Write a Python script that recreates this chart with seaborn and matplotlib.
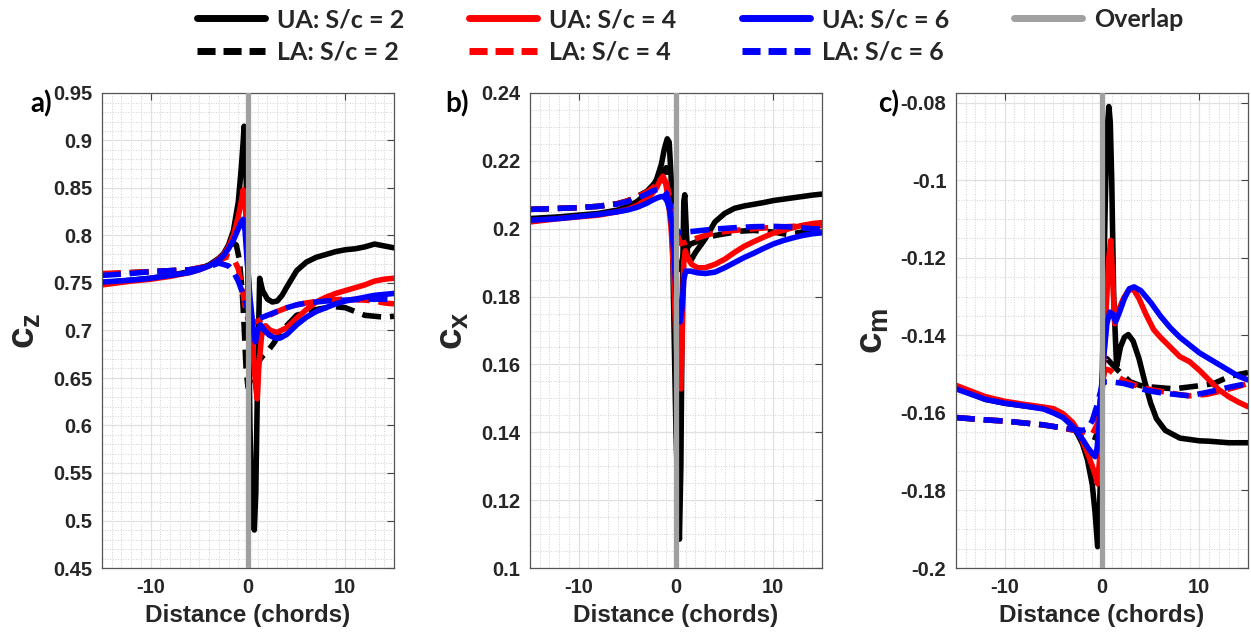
import numpy as np
import pandas as pd
import matplotlib
matplotlib.use("Agg")
import matplotlib.pyplot as plt
from matplotlib.ticker import MultipleLocator, FormatStrFormatter
import seaborn as sns

# ---- data (x in chords) ----
# panel a: c_z
a_ua2_x = [-15, -12, -10, -8, -6, -5, -4, -3, -2.5, -2, -1.5, -1, -0.7, -0.5, -0.4, -0.3, -0.1, 0.1, 0.2, 0.35,
           0.5, 0.65, 0.8, 1.0, 1.2, 1.5, 2.0, 2.5, 3.0, 3.5, 4, 5, 6, 7, 8, 9, 10, 11, 12, 13, 14, 15]
a_ua2_y = [0.750, 0.753, 0.755, 0.758, 0.762, 0.765, 0.769, 0.776, 0.781, 0.790, 0.805, 0.835, 0.870, 0.898, 0.915, 0.905,
           0.82, 0.68, 0.60, 0.53, 0.495, 0.49, 0.53, 0.66, 0.755, 0.742, 0.733, 0.730, 0.731, 0.737, 0.746, 0.763, 0.772,
           0.777, 0.780, 0.783, 0.785, 0.786, 0.788, 0.791, 0.789, 0.787]
a_ua4_x = [-15, -12, -10, -8, -6, -5, -4, -3, -2.5, -2, -1.5, -1, -0.7, -0.5, -0.3, -0.1, 0.2, 0.5, 0.8, 0.95, 1.1, 1.4,
           1.8, 2.3, 3, 4, 5, 6, 7, 8, 9, 10, 11, 12, 13, 14, 15]
a_ua4_y = [0.748, 0.752, 0.754, 0.757, 0.761, 0.764, 0.768, 0.775, 0.780, 0.788, 0.800, 0.820, 0.835, 0.848, 0.840, 0.790,
           0.720, 0.680, 0.640, 0.628, 0.660, 0.695, 0.705, 0.700, 0.698, 0.703, 0.713, 0.722, 0.730, 0.735, 0.739, 0.742,
           0.745, 0.748, 0.752, 0.754, 0.755]
a_ua6_x = [-15, -12, -10, -8, -6, -5, -4, -3, -2.5, -2, -1.5, -1, -0.7, -0.5, -0.3, -0.1, 0.2, 0.5, 0.75, 1.0, 1.3, 1.7,
           2.2, 2.8, 3.3, 4, 5, 6, 7, 8, 9, 10, 11, 12, 13, 14, 15]
a_ua6_y = [0.751, 0.753, 0.755, 0.758, 0.761, 0.764, 0.768, 0.774, 0.779, 0.786, 0.795, 0.807, 0.814, 0.817, 0.805, 0.775,
           0.735, 0.705, 0.688, 0.700, 0.706, 0.700, 0.695, 0.692, 0.692, 0.696, 0.706, 0.714, 0.720, 0.724, 0.728, 0.731,
           0.733, 0.735, 0.737, 0.738, 0.739]
a_la2_x = [-15, -12, -10, -8, -6, -4, -3, -2.5, -2, -1.5, -1.2, -0.9, -0.6, -0.4, -0.2, 0.0, 0.4, 0.9, 1.5, 2.0, 2.6,
           3.5, 5, 6.5, 8, 9, 10, 11, 12, 13, 14, 15]
a_la2_y = [0.759, 0.761, 0.762, 0.763, 0.764, 0.768, 0.774, 0.779, 0.785, 0.792, 0.790, 0.775, 0.742, 0.705, 0.660, 0.640,
           0.652, 0.665, 0.673, 0.678, 0.686, 0.700, 0.716, 0.721, 0.724, 0.725, 0.724, 0.720, 0.716, 0.715, 0.714, 0.715]
a_la4_x = [-15, -12, -10, -8, -6, -4, -3, -2.5, -2, -1.5, -1, -0.6, -0.3, 0.0, 0.5, 1.0, 2.0, 3.0, 4, 5, 6, 8, 10, 12,
           13, 14, 15]
a_la4_y = [0.760, 0.761, 0.762, 0.763, 0.764, 0.768, 0.773, 0.776, 0.778, 0.776, 0.765, 0.745, 0.726, 0.712, 0.708, 0.710,
           0.715, 0.720, 0.724, 0.727, 0.729, 0.732, 0.733, 0.732, 0.731, 0.729, 0.728]
a_la6_x = [-15, -12, -10, -8, -6, -4, -3, -2, -1.5, -1, -0.5, -0.2, 0.0, 0.5, 1.0, 2.0, 3.0, 4, 5, 6, 8, 10, 12, 14, 15]
a_la6_y = [0.758, 0.760, 0.762, 0.763, 0.764, 0.767, 0.771, 0.768, 0.762, 0.752, 0.738, 0.728, 0.722, 0.712, 0.712, 0.716,
           0.720, 0.724, 0.727, 0.729, 0.731, 0.732, 0.733, 0.733, 0.732]

# panel b: c_x
b_ua2_x = [-15, -12, -10, -8, -6, -5, -4, -3, -2.5, -2, -1.5, -1.2, -0.9, -0.7, -0.5, -0.35, -0.2, 0.0, 0.2, 0.35,
           0.5, 0.65, 0.8, 0.9, 1.05, 1.2, 1.5, 2, 3, 4, 5, 6, 7, 8, 9, 10, 11, 12, 13, 14, 15]
b_ua2_y = [0.2030, 0.2035, 0.2040, 0.2045, 0.2055, 0.2065, 0.2080, 0.2105, 0.2120, 0.2145, 0.2190, 0.2235, 0.2265,
           0.2255, 0.2150, 0.1950, 0.1700, 0.1400, 0.1200, 0.1085, 0.1300, 0.1800, 0.2080, 0.2100, 0.2000, 0.1920,
           0.1905, 0.1930, 0.1970, 0.2020, 0.2045, 0.2060, 0.2067, 0.2072, 0.2077, 0.2083, 0.2087, 0.2091, 0.2095,
           0.2099, 0.2102]
b_ua4_x = [-15, -12, -10, -8, -6, -5, -4, -3, -2.5, -2, -1.6, -1.35, -1.1, -0.8, -0.5, -0.3, -0.1, 0.1, 0.3, 0.5,
           0.65, 0.8, 0.95, 1.2, 1.6, 2.2, 3, 4, 5, 6, 7, 8, 9, 10, 11, 12, 13, 14, 15]
b_ua4_y = [0.2020, 0.2030, 0.2035, 0.2040, 0.2050, 0.2057, 0.2068, 0.2088, 0.2102, 0.2120, 0.2145, 0.2155, 0.2140,
           0.2090, 0.2000, 0.1900, 0.1750, 0.1600, 0.1530, 0.1528, 0.1700, 0.1900, 0.1935, 0.1915, 0.1895, 0.1885,
           0.1885, 0.1895, 0.1910, 0.1930, 0.1948, 0.1962, 0.1975, 0.1987, 0.1995, 0.2003, 0.2010, 0.2015, 0.2018]
b_ua6_x = [-15, -12, -10, -8, -6, -5, -4, -3, -2.5, -2, -1.5, -1.2, -0.9, -0.6, -0.4, -0.2, 0.0, 0.2, 0.4, 0.6, 0.8,
           1.0, 1.5, 2.2, 3, 4, 5, 6, 7, 8, 9, 10, 11, 12, 13, 14, 15]
b_ua6_y = [0.2025, 0.2030, 0.2036, 0.2042, 0.2050, 0.2055, 0.2063, 0.2075, 0.2083, 0.2090, 0.2095, 0.2094, 0.2080,
           0.2050, 0.2000, 0.1920, 0.1820, 0.1750, 0.1725, 0.1760, 0.1850, 0.1875, 0.1875, 0.1870, 0.1868, 0.1872,
           0.1885, 0.1900, 0.1915, 0.1928, 0.1942, 0.1955, 0.1965, 0.1973, 0.1980, 0.1985, 0.1988]
b_la2_x = [-15, -12, -10, -8, -6, -5, -4, -3, -2.5, -2, -1.5, -1, -0.6, -0.3, 0, 0.4, 0.86, 1.5, 2.9, 4, 5, 6.7, 8,
           10, 11.5, 13, 15]
b_la2_y = [0.2057, 0.2060, 0.2062, 0.2066, 0.2074, 0.2082, 0.2095, 0.2110, 0.2125, 0.2140, 0.2160, 0.2180, 0.2100,
           0.2000, 0.1900, 0.1880, 0.1935, 0.1955, 0.1970, 0.1980, 0.1985, 0.1993, 0.1995, 0.1990, 0.1983, 0.1990,
           0.1999]
b_la4_x = [-15, -12, -10, -8, -6, -5, -4, -3, -2.5, -2, -1.5, -1, -0.6, -0.3, 0, 0.5, 1.0, 1.9, 3, 4, 6, 8, 10, 12, 15]
b_la4_y = [0.2057, 0.2060, 0.2062, 0.2066, 0.2074, 0.2082, 0.2094, 0.2108, 0.2118, 0.2130, 0.2145, 0.2135, 0.2090,
           0.2030, 0.1990, 0.1956, 0.1960, 0.1970, 0.1980, 0.1988, 0.1995, 0.2000, 0.2004, 0.2007, 0.2009]
b_la6_x = [-15, -12, -10, -8, -6, -5, -4, -3, -2.5, -2, -1.5, -1, -0.6, -0.3, 0, 0.3, 1, 2, 4, 6, 8, 10, 12, 14, 15]
b_la6_y = [0.2057, 0.2060, 0.2062, 0.2066, 0.2073, 0.2080, 0.2090, 0.2102, 0.2110, 0.2115, 0.2118, 0.2105, 0.2070,
           0.2030, 0.2000, 0.1988, 0.1990, 0.1993, 0.1999, 0.2003, 0.2006, 0.2007, 0.2005, 0.2000, 0.1999]

# panel c: c_m
c_ua2_x = [-15, -12, -10, -8, -6, -5, -4, -3, -2.5, -2, -1.5, -1, -0.7, -0.45, -0.3, -0.1, 0.1, 0.3, 0.5, 0.7, 0.85,
           1.0, 1.2, 1.5, 1.9, 2.3, 2.7, 3.2, 3.8, 4.4, 5, 5.6, 6.5, 8, 10, 11, 12, 13, 15]
c_ua2_y = [-0.1535, -0.1565, -0.1575, -0.1582, -0.1588, -0.1595, -0.1608, -0.1635, -0.1655, -0.1680, -0.1720, -0.1785,
           -0.1860, -0.1945, -0.1900, -0.1700, -0.1400, -0.1100, -0.0880, -0.0810, -0.0850, -0.1000, -0.1300, -0.1480,
           -0.1430, -0.1405, -0.1398, -0.1415, -0.1460, -0.1520, -0.1575, -0.1615, -0.1645, -0.1665, -0.1672, -0.1673,
           -0.1675, -0.1677, -0.1677]
c_ua4_x = [-15, -12, -10, -8, -6, -5, -4, -3, -2.5, -2, -1.5, -1, -0.7, -0.45, -0.25, -0.05, 0.2, 0.45, 0.7, 0.9,
           1.1, 1.3, 1.7, 2.2, 2.7, 3.2, 3.8, 4.5, 5.3, 6, 7, 8, 9, 10, 11, 12, 13, 14, 15]
c_ua4_y = [-0.1529, -0.1558, -0.1570, -0.1578, -0.1585, -0.1589, -0.1602, -0.1625, -0.1645, -0.1672, -0.1703, -0.1737,
           -0.1760, -0.1783, -0.1720, -0.1580, -0.1450, -0.1320, -0.1200, -0.1155, -0.1250, -0.1370, -0.1335, -0.1305,
           -0.1285, -0.1280, -0.1305, -0.1345, -0.1385, -0.1405, -0.1430, -0.1455, -0.1468, -0.1490, -0.1515, -0.1540,
           -0.1558, -0.1572, -0.1584]
c_ua6_x = [-15, -12, -10, -8, -6, -5, -4, -3, -2.5, -2, -1.5, -1, -0.7, -0.5, -0.3, -0.1, 0.2, 0.5, 0.8, 1.1, 1.4,
           1.8, 2.3, 2.8, 3.3, 4, 5, 6, 7, 8, 9, 10, 11, 12, 13, 14, 15]
c_ua6_y = [-0.1538, -0.1565, -0.1575, -0.1582, -0.1590, -0.1600, -0.1612, -0.1635, -0.1652, -0.1668, -0.1688, -0.1705,
           -0.1713, -0.1690, -0.1630, -0.1550, -0.1450, -0.1370, -0.1340, -0.1345, -0.1365, -0.1340, -0.1305, -0.1280,
           -0.1275, -0.1285, -0.1315, -0.1350, -0.1380, -0.1405, -0.1425, -0.1445, -0.1460, -0.1475, -0.1490, -0.1505,
           -0.1515]
c_la2_x = [-15, -12, -10, -8, -6, -5, -4, -3, -2, -1.5, -1, -0.6, -0.3, 0, 0.5, 1.5, 2.9, 4, 5, 7.4, 9, 10, 11.5,
           13.2, 15]
c_la2_y = [-0.1612, -0.1618, -0.1621, -0.1626, -0.1631, -0.1635, -0.1639, -0.1644, -0.1650, -0.1655, -0.1660, -0.1665,
           -0.1600, -0.1520, -0.1460, -0.1487, -0.1520, -0.1530, -0.1533, -0.1538, -0.1533, -0.1530, -0.1524, -0.1505,
           -0.1496]
c_la4_x = [-15, -12, -10, -8, -6, -5, -4, -3, -2, -1.5, -1, -0.5, -0.2, 0, 0.3, 0.8, 1.5, 2.5, 3.9, 5, 6.7, 8, 9,
           10.8, 12.5, 14, 15]
c_la4_y = [-0.1612, -0.1618, -0.1621, -0.1626, -0.1631, -0.1635, -0.1639, -0.1644, -0.1650, -0.1655, -0.1655, -0.1630,
           -0.1580, -0.1530, -0.1487, -0.1490, -0.1505, -0.1520, -0.1533, -0.1540, -0.1547, -0.1553, -0.1556, -0.1552,
           -0.1542, -0.1532, -0.1524]
c_la6_x = [-15, -12, -10, -8, -6, -5, -4, -3, -2, -1.5, -1, -0.5, -0.2, 0, 0.2, 1, 2.2, 3.5, 4.6, 6, 7.4, 9, 10.8,
           12, 13.2, 15]
c_la6_y = [-0.1612, -0.1618, -0.1621, -0.1626, -0.1631, -0.1635, -0.1639, -0.1642, -0.1645, -0.1642, -0.1620, -0.1580,
           -0.1550, -0.1530, -0.1520, -0.1520, -0.1524, -0.1533, -0.1542, -0.1548, -0.1552, -0.1556, -0.1547, -0.1540,
           -0.1533, -0.1524]

series_labels = ["UA: S/c = 2", "LA: S/c = 2", "UA: S/c = 4", "LA: S/c = 4", "UA: S/c = 6", "LA: S/c = 6"]
panel_a = [(a_ua2_x, a_ua2_y), (a_la2_x, a_la2_y), (a_ua4_x, a_ua4_y), (a_la4_x, a_la4_y), (a_ua6_x, a_ua6_y), (a_la6_x, a_la6_y)]
panel_b = [(b_ua2_x, b_ua2_y), (b_la2_x, b_la2_y), (b_ua4_x, b_ua4_y), (b_la4_x, b_la4_y), (b_ua6_x, b_ua6_y), (b_la6_x, b_la6_y)]
panel_c = [(c_ua2_x, c_ua2_y), (c_la2_x, c_la2_y), (c_ua4_x, c_ua4_y), (c_la4_x, c_la4_y), (c_ua6_x, c_ua6_y), (c_la6_x, c_la6_y)]

# ---- style ----
sns.set_theme(style="white")
plt.rcParams["font.family"] = ["Liberation Sans", "DejaVu Sans"]
plt.rcParams["font.weight"] = "bold"
plt.rcParams["axes.unicode_minus"] = False
plt.rcParams["mathtext.fontset"] = "custom"
plt.rcParams["mathtext.bf"] = "Liberation Sans:bold"
plt.rcParams["mathtext.rm"] = "Liberation Sans:bold"

colors = ["black", "black", "red", "red", "blue", "blue"]
styles = ["-", "--", "-", "--", "-", "--"]
txt_col = "#262626"

fig = plt.figure(figsize=(12.51, 6.34), dpi=100)
W, H = 1251, 634
lefts = [102, 530, 956]
axes = [fig.add_axes([l / W, 1 - 568 / H, 292 / W, 475 / H]) for l in lefts]

panels = [panel_a, panel_b, panel_c]
ylims = [(0.45, 0.95), (0.1, 0.24), (-0.2, -0.0775)]
ymajor = [0.05, 0.02, 0.02]
yminor = [0.01, 0.005, 0.005]
ylabels = [r"$\mathbf{c_z}$", r"$\mathbf{c_x}$", r"$\mathbf{c_m}$"]
tags = ["a)", "b)", "c)"]
tag_x = [30, 445, 878]

for ax, data, yl, ymj, ymn, ylab, tag, tx in zip(axes, panels, ylims, ymajor, yminor, ylabels, tags, tag_x):
    for (xs, ys), lab, c, ls in zip(data, series_labels, colors, styles):
        line_kw = dict(dashes=(3.4, 1.6)) if ls == "--" else {}
        sns.lineplot(x=xs, y=ys, ax=ax, color=c, lw=4.0, label=lab, legend=False,
                     errorbar=None, sort=False, solid_capstyle="round", **line_kw)
    ax.axvline(0, color="#a0a0a0", lw=3.8, label="Overlap", zorder=5)
    ax.set_xlim(-15, 15)
    ax.set_ylim(*yl)
    ax.xaxis.set_major_locator(MultipleLocator(10))
    ax.xaxis.set_minor_locator(MultipleLocator(1))
    ax.yaxis.set_major_locator(MultipleLocator(ymj))
    ax.yaxis.set_minor_locator(MultipleLocator(ymn))
    ax.yaxis.set_major_formatter(FormatStrFormatter("%g"))
    ax.grid(which="major", color="#e0e0e0", lw=0.9, ls="-")
    ax.grid(which="minor", color="#d0d0d0", lw=0.7, ls=":")
    ax.set_axisbelow(True)
    ax.tick_params(which="major", direction="in", length=5, width=0.8, top=True, right=True,
                   labelsize=14.5, labelcolor=txt_col, color="#444444", pad=7)
    ax.tick_params(which="minor", length=0, top=True, right=True)
    for lbl in ax.get_xticklabels() + ax.get_yticklabels():
        lbl.set_fontweight("bold")
    for s in ax.spines.values():
        s.set_color("#555555")
        s.set_linewidth(0.9)
    ax.set_xlabel("Distance (chords)", fontsize=17.5, fontweight="bold", color=txt_col, labelpad=5)
    ax.set_ylabel(ylab, fontsize=28, color=txt_col, labelpad=7)
    fig.text(tx / W, 1 - 104 / H, tag, fontsize=20, fontweight="bold", family=["Lato", "DejaVu Sans"],
             ha="left", va="center", color="black")

handles, labels = axes[0].get_legend_handles_labels()
leg = fig.legend(handles, labels, loc="upper left", bbox_to_anchor=(197 / W, 1 - 8 / H), ncol=4, frameon=False,
                 prop={"family": ["Lato", "DejaVu Sans"], "weight": "bold", "size": 18},
                 handlelength=2.72, handletextpad=0.48, columnspacing=2.6, labelspacing=0.4,
                 borderpad=0, borderaxespad=0)
for ln, st in zip(leg.get_lines(), styles + ["-"]):
    ln.set_linewidth(5)
    if st == "--":
        ln.set_linestyle((0, (2.6, 1.15)))

fig.savefig("out.png", dpi=100)
